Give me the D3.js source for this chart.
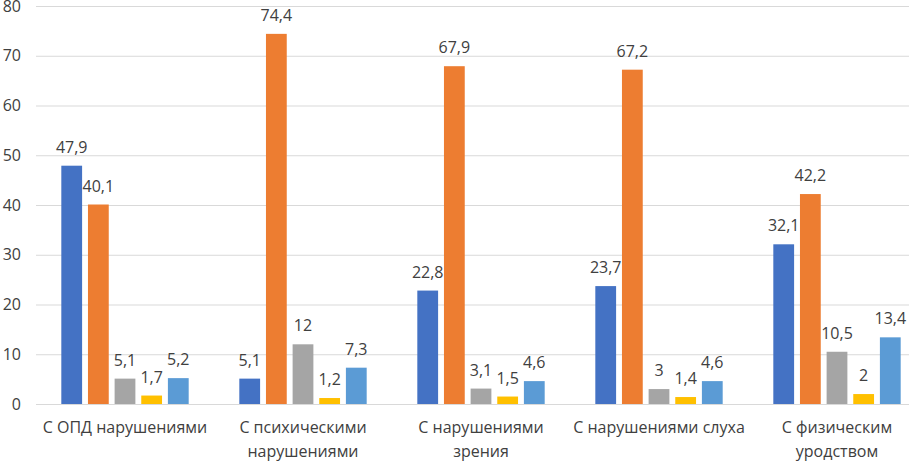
<!DOCTYPE html>
<html>
<head>
<meta charset="utf-8">
<script src="https://cdn.jsdelivr.net/npm/d3@7"></script>
<style>
  body { margin: 0; background: #fff; }
  text { font-family: "Open Sans", sans-serif; fill: #404040; }
</style>
</head>
<body>
<svg width="909" height="461"></svg>
<script>
var categories = [["С ОПД нарушениями"], ["С психическими", "нарушениями"], ["С нарушениями", "зрения"], ["С нарушениями слуха"], ["С физическим", "уродством"]];
var series1 = [47.9, 5.1, 22.8, 23.7, 32.1];
var series2 = [40.1, 74.4, 67.9, 67.2, 42.2];
var series3 = [5.1, 12, 3.1, 3, 10.5];
var series4 = [1.7, 1.2, 1.5, 1.4, 2];
var series5 = [5.2, 7.3, 4.6, 4.6, 13.4];
var colors = ["#4472C4", "#ED7D31", "#A5A5A5", "#FFC000", "#5B9BD5"];
var yTicks = [0, 10, 20, 30, 40, 50, 60, 70, 80];

var allSeries = [series1, series2, series3, series4, series5];

var svg = d3.select("svg");

var x = d3.scaleBand().domain(d3.range(categories.length)).range([36, 926]);
var inner = d3.scaleBand().domain(d3.range(allSeries.length))
  .range([0, x.bandwidth()]).paddingInner(0.22).paddingOuter(0.95);
var y = d3.scaleLinear().domain([0, 80]).range([404, 6]);

// grid
svg.append("g").selectAll("line").data(yTicks).enter().append("line")
  .attr("x1", 36).attr("x2", 909)
  .attr("y1", function (d) { return y(d) + 0.5; })
  .attr("y2", function (d) { return y(d) + 0.5; })
  .attr("stroke", "#d9d9d9")
  .attr("stroke-width", 1);

svg.append("g").selectAll("text").data(yTicks).enter().append("text")
  .attr("x", 21).attr("y", function (d) { return y(d); })
  .attr("dy", "0.35em").attr("text-anchor", "end")
  .style("font-size", "16px")
  .text(function (d) { return d; });

allSeries.forEach(function (vals, si) {
  var g = svg.append("g");
  g.selectAll("rect").data(vals).enter().append("rect")
    .attr("x", function (d, i) { return x(i) + inner(si); })
    .attr("y", function (d) { return y(d); })
    .attr("width", inner.bandwidth())
    .attr("height", function (d) { return y(0) - y(d); })
    .attr("fill", colors[si]);
  g.selectAll("text").data(vals).enter().append("text")
    .attr("x", function (d, i) { return x(i) + inner(si) + inner.bandwidth() / 2; })
    .attr("y", function (d) { return y(d) - 13; })
    .attr("text-anchor", "middle")
    .style("font-size", "16px")
    .text(function (d) { return String(d).replace(".", ","); });
});

var cat = svg.append("g").selectAll("text").data(categories).enter().append("text")
  .attr("x", function (d, i) { return x(i) + x.bandwidth() / 2; })
  .attr("y", 433)
  .attr("text-anchor", "middle")
  .style("font-size", "16px");
cat.selectAll("tspan").data(function (d) { return d; }).enter().append("tspan")
  .attr("x", function () { return d3.select(this.parentNode).attr("x"); })
  .attr("dy", function (d, i) { return i == 0 ? 0 : 24; })
  .text(function (d) { return d; });
</script>
</body>
</html>
